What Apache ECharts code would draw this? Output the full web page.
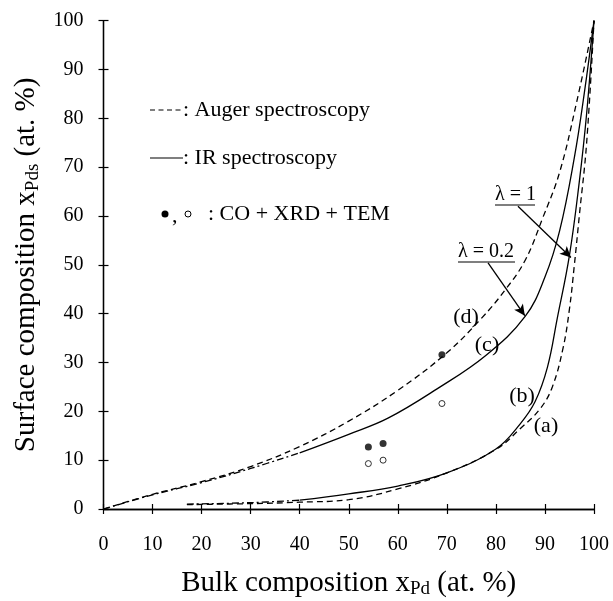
<!DOCTYPE html>
<html>
<head>
<meta charset="utf-8">
<script src="https://cdn.jsdelivr.net/npm/echarts@6/dist/echarts.min.js"></script>
<style>html,body{margin:0;padding:0;background:#fff;}#c{width:613px;height:601px;}</style>
</head>
<body>
<div id="c"></div>
<script>
// (d) Auger spectroscopy, upper curve (dashed)
const augerUpper = [[0,0],[10,3],[20,5.6],[30,8.7],[40,12.8],[50,18],[60,24.3],[70,32],[77,39],[82,45],[86,51],[89.5,59.5],[93,69],[96.5,83.5],[100,100]];
// (c) IR spectroscopy, upper curve: extrapolated part (dash-dot) and measured part (solid)
const irUpperExt = [[0,0],[10,2.9],[20,5.4],[30,8.3],[40,11.5]];
const irUpper = [[40,11.5],[50,15.3],[58,18.6],[68,24.6],[78,31.5],[86,39.5],[90,47.5],[93,57],[96,72],[98,85],[100,100]];
// (b) IR spectroscopy, lower curve
const irLowerExt = [[17,1.0],[30,1.3],[40,1.8]];
const irLower = [[40,1.8],[50,3.1],[60,4.7],[70,7.4],[80,12.3],[85,17.5],[88,22],[90.5,29],[92.5,39],[95,52],[97,67],[98.5,81],[100,100]];
// (a) Auger spectroscopy, lower curve
const augerLower = [[17,0.9],[30,1.1],[40,1.4],[50,1.9],[60,4.1],[70,7.4],[80,12.2],[85,16.5],[89,20.5],[91.5,25],[93.7,33],[95,41],[96,50],[97,60],[98.5,75],[100,100]];
// CO + XRD + TEM points
const filledPts = [[54,12.7],[57,13.4],[69,31.6]];
const openPts = [[54,9.3],[57,10],[69,21.6]];
// annotation arrows (data coordinates)
const arrowLam02 = [[78.4,50.4],[85.9,39.6]];
const arrowLam1 = [[84.5,62],[95.3,51.5]];

const FF = 'Liberation Serif, Times New Roman, serif';
const chart = echarts.init(document.getElementById('c'), null, {renderer:'canvas'});

const lineS = (name, data, type) => ({
  name, type:'line', data, symbol:'none', smooth:0.4,
  lineStyle:{color:'#000', width:1.3, type}, z:3, silent:true
});

const axisCommon = {
  type:'value', min:0, max:100, interval:10,
  axisLine:{show:true, lineStyle:{color:'#000', width:1.3}},
  splitLine:{show:false}
};

const tx = (text, x, y, size, align) => ({
  type:'text', x, y,
  style:{text, font: size + 'px ' + FF, fill:'#000', textAlign: align || 'left', textVerticalAlign:'middle'}
});
const ln = (x1, y1, x2, y2, dash) => ({
  type:'line', shape:{x1, y1, x2, y2},
  style:{stroke:'#000', lineWidth:1.2, lineDash: dash || null}
});

const option = {
  backgroundColor:'#fff',
  animation:false,
  grid:{left:103.5, right:19, top:20.7, bottom:92, containLabel:false, outerBoundsMode:'none'},
  xAxis:[
    Object.assign({}, axisCommon, {
      position:'bottom',
      axisTick:{show:true, inside:false, length:5, lineStyle:{color:'#000', width:1.2}},
      axisLabel:{show:true, margin:26, fontFamily:FF, fontSize:20, color:'#000'},
      name:'{t|Bulk composition x}{s|Pd}{t| (at. %)}',
      nameLocation:'middle', nameGap:58,
      nameTextStyle:{rich:{
        t:{fontFamily:FF, fontSize:29, color:'#000'},
        s:{fontFamily:FF, fontSize:19, color:'#000', padding:[13,0,0,0]}
      }}
    }),
    Object.assign({}, axisCommon, {
      position:'bottom',
      axisTick:{show:true, inside:true, length:5, lineStyle:{color:'#000', width:1.2}},
      axisLabel:{show:false}
    })
  ],
  yAxis:[
    Object.assign({}, axisCommon, {
      position:'left',
      axisTick:{show:true, inside:false, length:5, lineStyle:{color:'#000', width:1.2}},
      axisLabel:{show:true, margin:20, fontFamily:FF, fontSize:20, color:'#000'},
      name:'{t|Surface composition x}{s|Pds}{t| (at. %)}',
      nameLocation:'middle', nameGap:60, nameRotate:90,
      nameTextStyle:{rich:{
        t:{fontFamily:FF, fontSize:29, color:'#000'},
        s:{fontFamily:FF, fontSize:19, color:'#000', padding:[13,0,0,0]}
      }}
    }),
    Object.assign({}, axisCommon, {
      position:'left',
      axisTick:{show:true, inside:true, length:5, lineStyle:{color:'#000', width:1.2}},
      axisLabel:{show:false}
    })
  ],
  series:[
    Object.assign(lineS('d', augerUpper, [6,4]), {
      markLine:{
        silent:true, symbol:['none','arrow'], symbolSize:[8,11], precision:2,
        label:{show:false},
        lineStyle:{color:'#000', width:1.3, type:'solid'},
        data:[
          [{coord:arrowLam02[0]},{coord:arrowLam02[1]}],
          [{coord:arrowLam1[0]},{coord:arrowLam1[1]}]
        ]
      }
    }),
    lineS('cExt', irUpperExt, [7,3,2,3]),
    lineS('c', irUpper, 'solid'),
    lineS('bExt', irLowerExt, [7,3,2,3]),
    lineS('b', irLower, 'solid'),
    lineS('a', augerLower, [6,4]),
    {type:'scatter', data:filledPts, symbol:'circle', symbolSize:7, itemStyle:{color:'#000'}, z:4, silent:true},
    {type:'scatter', data:openPts, symbol:'circle', symbolSize:6, itemStyle:{color:'#fff', borderColor:'#000', borderWidth:1}, z:4, silent:true}
  ],
  graphic:[
    ln(150, 110, 183, 110, [5,3.5]),
    tx(': Auger spectroscopy', 183, 110, 22),
    ln(150, 158, 183, 158),
    tx(': IR spectroscopy', 183, 158, 22),
    {type:'circle', shape:{cx:165, cy:214, r:3.5}, style:{fill:'#000'}},
    tx(',', 172, 216, 22),
    {type:'circle', shape:{cx:188, cy:214, r:3}, style:{fill:'#fff', stroke:'#000', lineWidth:1}},
    tx(': CO + XRD + TEM', 208, 214, 22),
    tx('λ = 0.2', 458, 252, 20),
    ln(458, 262, 515, 262),
    tx('λ = 1', 495, 195, 20),
    ln(495, 205, 535, 205),
    tx('(d)', 466, 317, 22, 'center'),
    tx('(c)', 487, 345, 22, 'center'),
    tx('(b)', 522, 396, 22, 'center'),
    tx('(a)', 546, 426, 22, 'center')
  ]
};
chart.setOption(option);
</script>
</body>
</html>
